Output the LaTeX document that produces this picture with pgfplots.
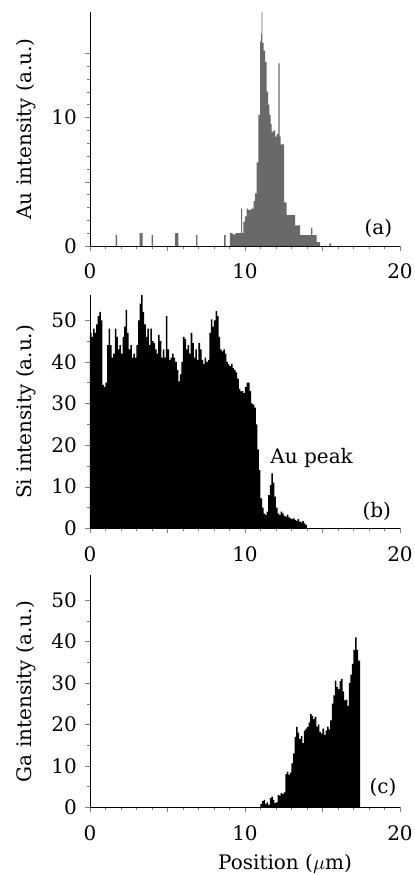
\documentclass[border=0pt]{standalone}
\usepackage{pgfplots}
\pgfplotsset{compat=1.18}
\usepackage{fontspec}
\setmainfont{DejaVu Serif}

\definecolor{augray}{RGB}{105,105,105}

\pgfplotsset{
  panel/.style={
    scale only axis,
    width=155pt,
    xmin=0, xmax=20,
    axis lines=left,
    axis line style={-},
    tick align=outside,
    major tick length=2.5pt,
    minor tick length=1.5pt,
    xtick={0,5,10,15,20},
    xticklabels={0,,10,,20},
    minor x tick num=4,
    font=\fontsize{10}{12}\selectfont,
    /pgf/number format/assume math mode=true,
    xticklabel style={yshift=-3pt},
    yticklabel style={xshift=-0.5pt},
    ylabel style={yshift=1pt},
  },
}

\begin{document}
\begin{tikzpicture}
\useasboundingbox (0,0) rectangle (207pt,-437.5pt);

% (a) Au
\begin{axis}[panel,
  at={(45pt,-123pt)}, anchor=south west,
  height=117pt,
  ymin=0, ymax=18.2,
  ytick={0,5,10,15},
  yticklabels={0,,10,},
  minor y tick num=4,
  ylabel={Au intensity (a.u.)},
]
\addplot[const plot, fill=augray, draw=none] coordinates {
(0,0)
(1.65,0.85)(1.75,0)
(3.2,1.0)(3.4,0)
(3.97,0.85)(4.06,0)
(5.5,1.0)(5.7,0)
(6.84,0.85)(6.92,0)
(8.66,0.85)(8.75,0)
(9.03,1.0)(9.2,0.9)(9.4,1.0)(9.68,1.0)(9.75,2.9)(9.82,1.0)(9.9,1.9)
(10.0,2.3)(10.1,2.9)(10.22,2.8)(10.4,2.9)(10.55,3.5)(10.65,4.1)(10.75,6.5)
(10.86,10.2)(10.97,15.9)(11.04,16.5)(11.07,18.2)(11.12,15.8)(11.2,15.2)
(11.3,14.3)(11.4,12.0)(11.5,11.0)(11.57,10.2)(11.65,9.5)(11.72,8.9)
(11.85,9.0)(11.94,8.5)(12.04,8.7)(12.15,14.2)(12.24,8.5)(12.3,7.9)
(12.52,3.4)(12.69,2.4)(13.23,1.6)(13.55,0.85)(14.26,1.4)(14.34,0.85)
(14.62,0.3)(14.84,0)(15.45,0.2)(15.55,0)(20,0)
} \closedcycle;
\node[anchor=center] at (axis cs:18.6,1.4) {(a)};
\end{axis}

% (b) Si
\begin{axis}[panel,
  at={(45pt,-264.15pt)}, anchor=south west,
  height=116.5pt,
  ymin=0, ymax=56,
  ytick={0,10,20,30,40,50},
  minor y tick num=1,
  ylabel={Si intensity (a.u.)},
]
\addplot[const plot, fill=black, draw=none] coordinates {
(0.0,47)(0.1,46)(0.2,48)(0.3,47)(0.4,49)(0.5,51)(0.6,52)(0.7,50)
(0.8,34.5)(0.9,34)(1.0,35)(1.1,44)(1.2,48)(1.3,44)(1.4,41)(1.5,42)
(1.6,48)(1.7,46)(1.8,43)(1.9,44)(2.0,42)(2.1,46)(2.2,48.5)(2.3,52.5)
(2.4,47)(2.5,43)(2.6,44)(2.7,41)(2.8,42)(2.9,41)(3.0,44)(3.1,50)
(3.2,54)(3.3,56.6)(3.4,52)(3.5,49)(3.6,46)(3.7,48)(3.8,44)(3.9,48)
(4.0,45)(4.1,44.5)(4.2,43)(4.3,42)(4.4,46.5)(4.5,45)(4.6,41)(4.7,43)
(4.8,41)(4.9,51)(5.0,43)(5.1,40.5)(5.2,41)(5.3,42)(5.4,41)(5.5,40)
(5.6,38)(5.7,35.3)(5.8,37)(5.9,40)(6.0,46)(6.1,45.5)(6.2,43)(6.3,44)
(6.4,42)(6.5,47)(6.6,44.5)(6.7,41)(6.8,43)(6.9,40.5)(7.0,44.6)(7.1,43)
(7.2,40.5)(7.3,39.5)(7.4,41)(7.5,40)(7.6,40.5)(7.7,47)(7.8,50.2)(7.9,48.5)
(8.0,50)(8.1,52.2)(8.2,51)(8.3,46)(8.4,43)(8.5,42.5)(8.6,43)(8.7,42)
(8.8,40)(8.9,39.4)(9.0,39)(9.1,39.5)(9.2,38.5)(9.3,38)(9.4,37.5)(9.5,36)
(9.6,33.5)(9.7,32.9)(9.8,33)(9.9,32.5)(10.0,34)(10.1,35)(10.2,35)(10.3,33)
(10.4,30)(10.5,29.7)(10.6,29)(10.7,25)(10.8,19)(10.9,14)(11.0,7.2)(11.1,5)
(11.2,3.5)(11.3,3.2)(11.4,4)(11.5,8)(11.6,10.4)(11.7,13.2)(11.8,11)(11.9,7.6)
(12.0,5)(12.1,3.5)(12.2,3.2)(12.3,4)(12.4,3.6)(12.5,3)(12.6,2.8)(12.7,3.3)
(12.8,2.6)(12.9,2.4)(13.0,2.2)(13.1,2.4)(13.2,2.0)(13.3,1.8)(13.4,2.2)(13.5,1.6)
(13.6,1.4)(13.7,1.7)(13.8,1.2)(13.9,0.8)(14.0,0)(20,0)
} \closedcycle;
\node[anchor=center] at (axis cs:18.5,4) {(b)};
\node[anchor=center] at (axis cs:14.3,17) {Au peak};
\end{axis}

% (c) Ga
\begin{axis}[panel,
  at={(45pt,-403.65pt)}, anchor=south west,
  height=116pt,
  ymin=0, ymax=56,
  ytick={0,10,20,30,40,50},
  minor y tick num=1,
  ylabel={Ga intensity (a.u.)},
  xlabel={Position ($\mu$m)},
  xlabel style={xshift=20pt, yshift=0pt},
]
\addplot[const plot, fill=black, draw=none] coordinates {
(0,0)(10.9,0)
(11.0,0.8)(11.1,1.5)(11.2,1.8)(11.3,0.8)(11.4,1.2)(11.5,0.6)(11.6,2.2)
(11.7,2.6)(11.8,1.8)(11.9,1)(12.0,1.2)(12.1,3)(12.2,2.8)(12.3,3.4)(12.4,3.2)
(12.5,3.6)(12.6,8)(12.7,8.6)(12.8,7.8)(12.9,8.4)(13.0,10.6)(13.1,13)(13.2,17)
(13.3,19.4)(13.4,18)(13.5,16.5)(13.6,17.2)(13.7,15.5)(13.8,18.5)(13.9,19)
(14.0,19.4)(14.1,20.5)(14.2,22.5)(14.3,22)(14.4,21.3)(14.5,21.8)(14.6,19.5)
(14.7,20)(14.8,18.2)(14.9,17.8)(15.0,19)(15.1,17.5)(15.2,18.5)(15.3,19.5)
(15.4,18.8)(15.5,21)(15.6,25)(15.7,27)(15.8,30.6)(15.9,29)(16.0,28.5)
(16.1,30.5)(16.2,31)(16.3,28)(16.4,25.8)(16.5,26)(16.6,24.5)(16.7,30)
(16.8,32)(16.9,34.6)(17.0,38)(17.1,41)(17.2,38)(17.3,35.4)(17.42,0)(20,0)
} \closedcycle;
\node[anchor=center] at (axis cs:18.9,4.75) {(c)};
\end{axis}
\end{tikzpicture}
\end{document}
